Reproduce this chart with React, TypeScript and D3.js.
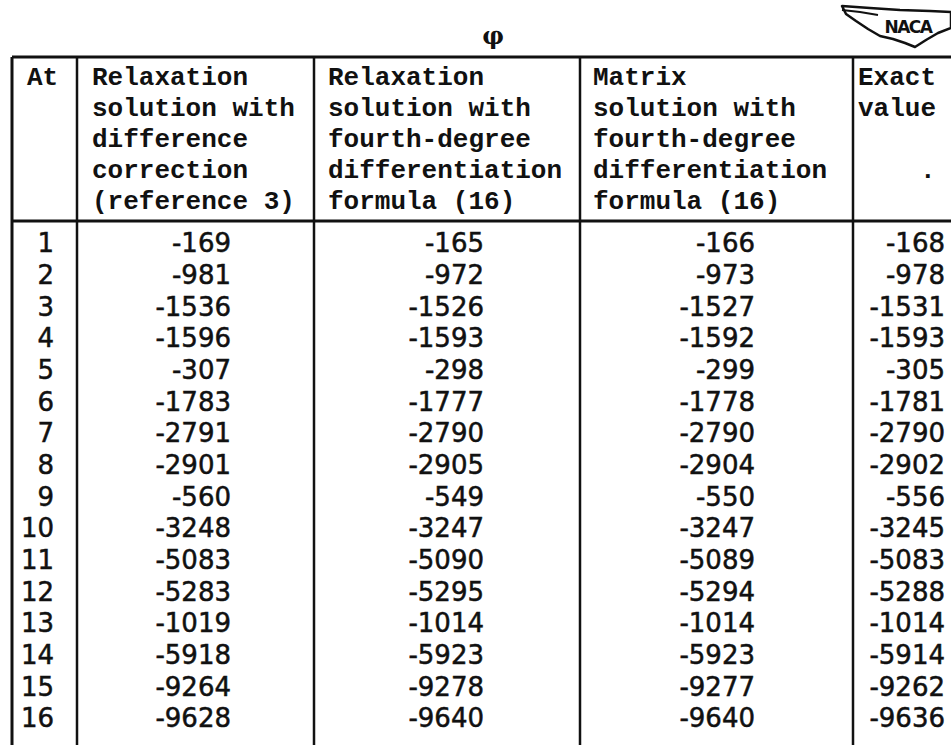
import React from "react";
import * as d3 from "d3";

const atLabels = ["1","2","3","4","5","6","7","8","9","10","11","12","13","14","15","16"];
const relaxDiff = [-169,-981,-1536,-1596,-307,-1783,-2791,-2901,-560,-3248,-5083,-5283,-1019,-5918,-9264,-9628];
const relaxFourth = [-165,-972,-1526,-1593,-298,-1777,-2790,-2905,-549,-3247,-5090,-5295,-1014,-5923,-9278,-9640];
const matrixFourth = [-166,-973,-1527,-1592,-299,-1778,-2790,-2904,-550,-3247,-5089,-5294,-1014,-5923,-9277,-9640];
const exactValue = [-168,-978,-1531,-1593,-305,-1781,-2790,-2902,-556,-3245,-5083,-5288,-1014,-5914,-9262,-9636];

const headerAt = ["At"];
const headerRelaxDiff = ["Relaxation","solution with","difference","correction","(reference 3)"];
const headerRelaxFourth = ["Relaxation","solution with","fourth-degree","differentiation","formula (16)"];
const headerMatrix = ["Matrix","solution with","fourth-degree","differentiation","formula (16)"];
const headerExact = ["Exact","value","",".",""];
const titleSymbol = "φ";
const logoText = "NACA";

const W = 951, H = 745;
const colEdges = [12, 77, 314, 580, 853];
const tableTop = 57, headerBottom = 221;

export default function App() {
  const rowY = d3.scalePoint<string>().domain(atLabels).range([243, 718]);
  const headLineY = d3.scaleLinear().domain([0, 4]).range([76, 200]);
  const columns = [
    { head: headerAt, vals: atLabels, right: 54, left: 27 },
    { head: headerRelaxDiff, vals: relaxDiff.map(String), right: 231, left: 92 },
    { head: headerRelaxFourth, vals: relaxFourth.map(String), right: 484, left: 328 },
    { head: headerMatrix, vals: matrixFourth.map(String), right: 755, left: 593 },
    { head: headerExact, vals: exactValue.map(String), right: 945, left: 858 },
  ];
  const numFont = "'DejaVu Sans', sans-serif";
  const headFont = "'Liberation Mono', 'DejaVu Sans Mono', monospace";
  return (
    <svg width={W} height={H} style={{ position: "absolute", left: 0, top: 0, background: "#fff" }}>
      <rect x={0} y={0} width={W} height={H} fill="#fff" />
      {/* NACA logo */}
      <g>
        <path d="M842,6 L870,8 L900,10 L930,11 L951,12 L951,28 L938,33 L926,40 L915,47 L905,43 L893,39 L880,36 L868,29 L856,21 L846,14 Z"
          fill="none" stroke="#111" strokeWidth={2.5} strokeLinejoin="round" />
        <path d="M842,10 L860,12 L878,15" fill="none" stroke="#111" strokeWidth={2} />
        <text x={908} y={33} fontFamily="'DejaVu Sans', sans-serif" fontWeight="bold" fontSize={17} textAnchor="middle" fill="#111" letterSpacing={-1.5}>{logoText}</text>
      </g>
      <text x={493} y={44} fontFamily="'DejaVu Serif', serif" fontWeight="bold" fontSize={24} textAnchor="middle" fill="#111">{titleSymbol}</text>
      {/* grid lines */}
      <line x1={colEdges[0]} x2={W} y1={tableTop} y2={tableTop} stroke="#111" strokeWidth={3} />
      <line x1={colEdges[0]} x2={W} y1={headerBottom} y2={headerBottom} stroke="#111" strokeWidth={3} />
      {colEdges.map((x, i) => (
        <line key={i} x1={x} x2={x} y1={tableTop} y2={H} stroke="#111" strokeWidth={i === 0 ? 3 : 2.5} />
      ))}
      {columns.map((c, ci) => (
        <g key={ci}>
          {c.head.map((t, li) => (
            <text key={li} x={t === "." ? 920 : c.left} y={headLineY(li)} dy="0.35em"
              fontFamily={headFont} fontWeight="bold" fontSize={26} fill="#111">{t}</text>
          ))}
          {c.vals.map((v, ri) => (
            <text key={ri} x={c.right} y={rowY(atLabels[ri])} dy="0.36em" textAnchor="end"
              fontFamily={numFont} fontSize={26} fill="#111" stroke="#111" strokeWidth={0.5}>{v}</text>
          ))}
        </g>
      ))}
    </svg>
  );
}
